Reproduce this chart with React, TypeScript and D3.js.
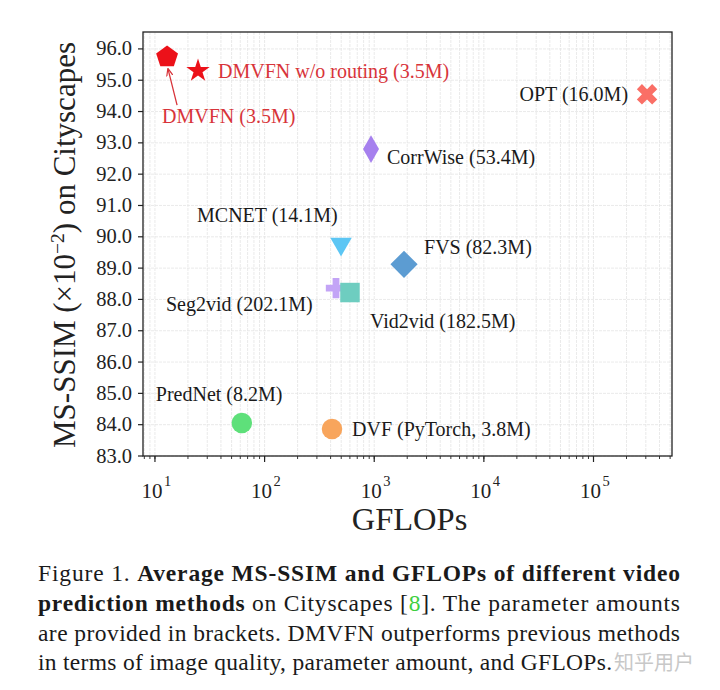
import React from 'react';
import * as d3 from 'd3';

// methods, GFLOPs (log x) and MS-SSIM (x10^-2)
const methods = ['DMVFN', 'DMVFN w/o routing', 'OPT', 'CorrWise', 'MCNET', 'FVS', 'Seg2vid', 'Vid2vid', 'PredNet', 'DVF'];
const gflops = [12.9, 24.7, 308000, 935, 498, 1870, 448, 601, 62, 412];
const msssim = [95.74, 95.3, 94.55, 92.8, 89.77, 89.12, 88.36, 88.22, 84.05, 83.86];
const labels = ['DMVFN (3.5M)', 'DMVFN w/o routing (3.5M)', 'OPT (16.0M)', 'CorrWise (53.4M)', 'MCNET (14.1M)', 'FVS (82.3M)', 'Seg2vid (202.1M)', 'Vid2vid (182.5M)', 'PredNet (8.2M)', 'DVF (PyTorch, 3.8M)'];
const colors = ['#ec1119', '#ec1119', '#fa6f66', '#a680ee', '#5cc6f4', '#5c9cd2', '#c3a4f6', '#6ecdc0', '#5ee07a', '#f8a55c'];
const yTicks = [83, 84, 85, 86, 87, 88, 89, 90, 91, 92, 93, 94, 95, 96];
const xDecades = [1, 2, 3, 4, 5];

const font = '"Liberation Serif", "Times New Roman", serif';

function pentagon(r: number) {
  const pts = d3.range(5).map(i => {
    const a = -Math.PI / 2 + i * 2 * Math.PI / 5;
    return [r * Math.cos(a), r * Math.sin(a)];
  });
  return 'M' + pts.map(p => p.join(',')).join('L') + 'Z';
}

function markerPath(i: number) {
  switch (i) {
    case 0: return { d: pentagon(11.5), rot: 0 };
    case 1: return { d: d3.symbol(d3.symbolStar, 170)(), rot: 0 };
    case 2: return { d: d3.symbol(d3.symbolCross, 260)(), rot: 45 };
    case 3: return { d: d3.symbol(d3.symbolDiamond, 220)(), rot: 0 };
    case 4: return { d: d3.symbol(d3.symbolTriangle, 200)(), rot: 180 };
    case 5: return { d: d3.symbol(d3.symbolSquare, 370)(), rot: 45 };
    case 6: return { d: d3.symbol(d3.symbolCross, 230)(), rot: 0 };
    case 7: return { d: d3.symbol(d3.symbolSquare, 380)(), rot: 0 };
    default: return { d: d3.symbol(d3.symbolCircle, 330)(), rot: 0 };
  }
}

// label offsets relative to marker (dx, dy, anchor)
const labelPos: [number, number, string][] = [
  [-5, 66, 'start'],
  [20, 7, 'start'],
  [-19, 7, 'end'],
  [16, 15, 'start'],
  [-144, -22, 'start'],
  [20, -10, 'start'],
  [-170, 23, 'start'],
  [20, 35, 'start'],
  [-86, -22, 'start'],
  [20, 7, 'start'],
];

export default function App() {
  const width = 720, height = 690;
  const left = 143, right = 672, top = 32, bottom = 456;

  const x = d3.scaleLog().domain([7.78, 520000]).range([left, right]);
  const y = d3.scaleLinear().domain([83, 96.54]).range([bottom, top]);

  const minorX: number[] = [];
  for (let e = 0; e <= 5; e++) {
    for (let m = 1; m <= 9; m++) {
      const v = m * Math.pow(10, e);
      if (v >= 7.78 && v <= 520000) minorX.push(v);
    }
  }

  return (
    <svg width={width} height={height} style={{ position: 'absolute', left: 0, top: 0, background: '#fff' }} fontFamily={font}>
      {/* grid */}
      <g>
        {minorX.map((v, i) => (
          <line key={'gx' + i} x1={x(v)} x2={x(v)} y1={top} y2={bottom} stroke="#e4e4e4" strokeWidth={0.8} strokeDasharray="3,1" />
        ))}
        {yTicks.map(v => (
          <line key={'gy' + v} x1={left} x2={right} y1={y(v)} y2={y(v)} stroke="#e4e4e4" strokeWidth={0.8} strokeDasharray="3,1" />
        ))}
      </g>

      {/* frame */}
      <rect x={left} y={top} width={right - left} height={bottom - top} fill="none" stroke="#222" strokeWidth={1.3} />

      {/* y axis */}
      {yTicks.map(v => (
        <g key={'yt' + v}>
          <line x1={left - 5} x2={left} y1={y(v)} y2={y(v)} stroke="#222" strokeWidth={1.2} />
          <text x={left - 11} y={y(v) + 6.5} textAnchor="end" fontSize={20.5} fill="#222">{v.toFixed(1)}</text>
        </g>
      ))}

      {/* x axis */}
      {minorX.map((v, i) => (
        <line key={'mx' + i} x1={x(v)} x2={x(v)} y1={bottom} y2={bottom + 3} stroke="#222" strokeWidth={0.9} />
      ))}
      {xDecades.map(e => (
        <g key={'xt' + e}>
          <line x1={x(Math.pow(10, e))} x2={x(Math.pow(10, e))} y1={bottom} y2={bottom + 6} stroke="#222" strokeWidth={1.2} />
          <text x={x(Math.pow(10, e)) - 3} y={bottom + 42} textAnchor="middle" fontSize={21} fill="#222">10</text>
          <text x={x(Math.pow(10, e)) + 9} y={bottom + 30} textAnchor="start" fontSize={14.5} fill="#222">{e}</text>
        </g>
      ))}

      {/* axis titles */}
      <text x={(left + right) / 2 + 2} y={530} textAnchor="middle" fontSize={32.5} fill="#222">GFLOPs</text>
      <text transform={`translate(75, ${(top + bottom) / 2 + 1}) rotate(-90)`} textAnchor="middle" fontSize={31} fill="#222">
        MS-SSIM (×10<tspan dy={-11} fontSize={19.5}>−2</tspan><tspan dy={11}>) on Cityscapes</tspan>
      </text>

      {/* arrow DMVFN */}
      <defs>
        <marker id="ah" viewBox="0 0 10 10" refX="9" refY="5" markerWidth="6" markerHeight="6" orient="auto">
          <path d="M0,1L10,5L0,9" fill="none" stroke="#d8343a" strokeWidth={1.5} />
        </marker>
      </defs>
      <line x1={x(gflops[0]) + 10} y1={y(msssim[0]) + 48} x2={x(gflops[0]) + 1} y2={y(msssim[0]) + 12} stroke="#d8343a" strokeWidth={1.3} markerEnd="url(#ah)" />

      {/* markers */}
      {methods.map((m, i) => {
        const mk = markerPath(i);
        return (
          <path key={m} d={mk.d || ''} fill={colors[i]} transform={`translate(${x(gflops[i])},${y(msssim[i])}) rotate(${mk.rot})`} />
        );
      })}

      {/* labels */}
      {methods.map((m, i) => {
        const [dx, dy, anchor] = labelPos[i];
        return (
          <text key={'l' + m} x={x(gflops[i]) + dx} y={y(msssim[i]) + dy} textAnchor={anchor as any} fontSize={20} fill={i < 2 ? '#d8343a' : '#1a1a1a'}>{labels[i]}</text>
        );
      })}

      {/* caption */}
      <g fontSize={23.5} fill="#1a1a1a">
        <text x={38} y={581} textLength={642} lengthAdjust="spacing">Figure 1.  <tspan fontWeight="bold">Average MS-SSIM and GFLOPs of different video</tspan></text>
        <text x={38} y={611} textLength={642} lengthAdjust="spacing"><tspan fontWeight="bold">prediction methods</tspan> on Cityscapes [<tspan fill="#3fcf3f">8</tspan>].  The parameter amounts</text>
        <text x={38} y={641} textLength={642} lengthAdjust="spacing">are provided in brackets. DMVFN outperforms previous methods</text>
        <text x={38} y={670} textLength={574} lengthAdjust="spacing">in terms of image quality, parameter amount, and GFLOPs.</text>
        <text x={614} y={670} fontFamily='"Noto Sans CJK SC", sans-serif' fontSize={20} fill="#c8c8c8">知乎用户</text>
      </g>
    </svg>
  );
}
